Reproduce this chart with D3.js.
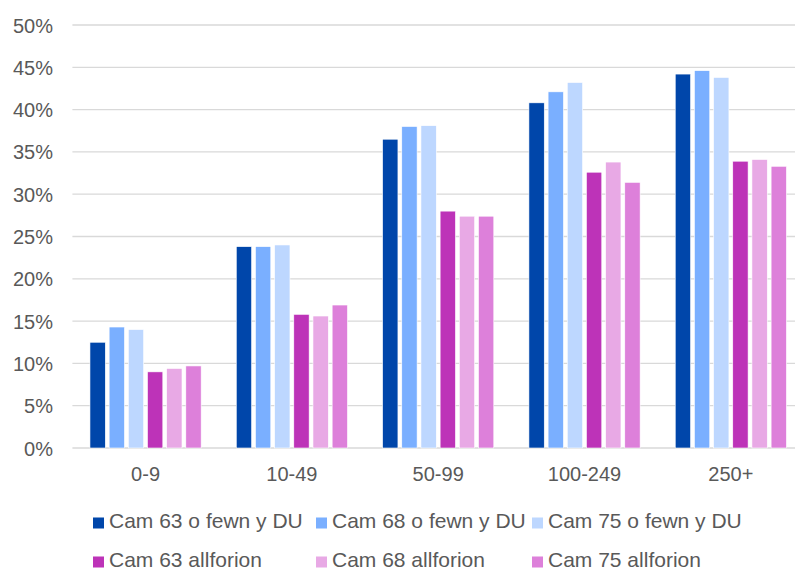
<!DOCTYPE html>
<html>
<head>
<meta charset="utf-8">
<script src="https://cdn.jsdelivr.net/npm/d3@7"></script>
<style>
  body { margin: 0; background: #fff; }
  svg text { font-family: "Liberation Sans", Arial, sans-serif; fill: #595959; }
</style>
</head>
<body>
<svg id="chart" width="795" height="570"></svg>
<script>
const groups = ['0-9', '10-49', '50-99', '100-249', '250+']
const series = ['Cam 63 o fewn y DU', 'Cam 68 o fewn y DU', 'Cam 75 o fewn y DU',
                'Cam 63 allforion', 'Cam 68 allforion', 'Cam 75 allforion']
const colours = ['#0046AA', '#7AAFFF', '#BDD7FF', '#BD33B8', '#E8A9E5', '#DD80DA']
// one array per series, values in %
const cam63DU = [12.5, 23.8, 36.5, 40.8, 44.2]
const cam68DU = [14.3, 23.8, 38.0, 42.1, 44.6]
const cam75DU = [14.0, 24.0, 38.1, 43.2, 43.8]
const cam63Allf = [9.0, 15.8, 28.0, 32.6, 33.9]
const cam68Allf = [9.4, 15.6, 27.4, 33.8, 34.1]
const cam75Allf = [9.7, 16.9, 27.4, 31.4, 33.3]
const values = [cam63DU, cam68DU, cam75DU, cam63Allf, cam68Allf, cam75Allf]
const yTicks = [0, 5, 10, 15, 20, 25, 30, 35, 40, 45, 50]

let svg = d3.select('#chart')

let x0 = d3.scaleBand()
    .domain(groups)
    .range([72.4, 804])
    .paddingInner(0.24)
    .paddingOuter(0.12)

let x1 = d3.scaleBand()
    .domain(series)
    .range([0, x0.bandwidth()])
    .paddingInner(0.2)

let y = d3.scaleLinear()
    .domain([0, 50])
    .range([448, 25])

// gridlines
svg.append('g')
    .selectAll('line')
    .data(yTicks)
    .join('line')
    .attr('x1', 72.4)
    .attr('x2', 804)
    .attr('y1', d => y(d))
    .attr('y2', d => y(d))
    .attr('stroke', '#d9d9d9')
    .attr('stroke-width', 1.3)

// y axis labels
let yAxis = svg.append('g')
    .attr('transform', 'translate(53,0)')
    .call(d3.axisLeft(y).tickValues(yTicks).tickSize(0).tickPadding(0).tickFormat(d => d + '%'))
yAxis.select('.domain').remove()
yAxis.selectAll('text')
    .attr('font-size', 20)
    .attr('fill', '#595959')
    .attr('dy', '0.35em')

// bars
let rows = []
groups.forEach((g, gi) => {
    series.forEach((s, si) => rows.push({ g, s, si, v: values[si][gi] }))
})

svg.append('g')
    .selectAll('rect')
    .data(rows)
    .join('rect')
    .attr('x', d => x0(d.g) + x1(d.s))
    .attr('y', d => y(d.v))
    .attr('width', x1.bandwidth())
    .attr('height', d => y(0) - y(d.v))
    .attr('fill', d => colours[d.si])
    .attr('stroke', '#fff')
    .attr('stroke-width', 0.6)

// x axis labels
let xAxis = svg.append('g')
    .attr('transform', 'translate(0,448)')
    .call(d3.axisBottom(x0).tickSize(0).tickPadding(0))
xAxis.select('.domain').remove()
xAxis.selectAll('text')
    .attr('font-size', 20)
    .attr('fill', '#595959')
    .attr('dy', null)
    .attr('y', 33)

// legend, 3 columns x 2 rows
let legend = svg.append('g')
const colX = [93, 316, 532]
const rowY = [528, 567]
series.forEach((s, i) => {
    let cx = colX[i % 3], cy = rowY[Math.floor(i / 3)]
    legend.append('rect')
        .attr('x', cx)
        .attr('y', cy - 10.5)
        .attr('width', 11)
        .attr('height', 11)
        .attr('fill', colours[i])
    legend.append('text')
        .attr('x', cx + 16)
        .attr('y', cy)
        .attr('font-size', 21)
        .text(s)
})
</script>
</body>
</html>
